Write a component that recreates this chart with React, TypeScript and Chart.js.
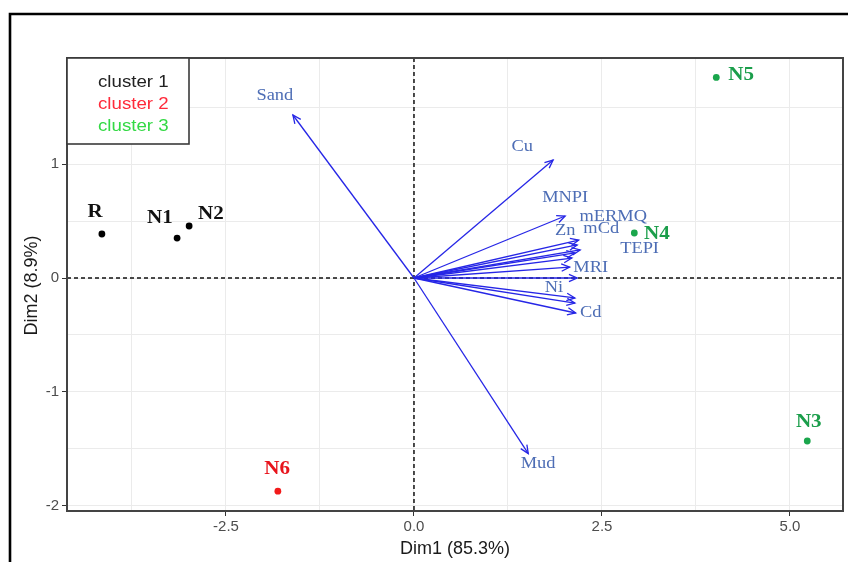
import React, { useEffect, useRef } from 'react';
import { Chart, registerables } from 'chart.js';

Chart.register(...registerables);

// ---- Data ----
const sampleNames = ['R', 'N1', 'N2', 'N3', 'N4', 'N5', 'N6'];
const sampleDim1 = [-4.15, -3.15, -2.99, 5.23, 2.93, 4.02, -1.81];
const sampleDim2 = [0.386, 0.35, 0.456, -1.43, 0.395, 1.76, -1.87];
const sampleCluster = [1, 1, 1, 3, 3, 3, 2];
const sampleLabelDim1 = [-4.24, -3.38, -2.7, 5.25, 3.23, 4.35, -1.82];
const sampleLabelDim2 = [0.58, 0.526, 0.56, -1.27, 0.386, 1.78, -1.675];

const varNames = ['Sand', 'Mud', 'Cu', 'MNPI', 'mERMQ', 'Zn', 'mCd', 'TEPI', '', 'MRI', '', 'Ni', '', 'Cd'];
const varDim1 = [-1.61, 1.52, 1.85, 2.01, 2.19, 2.17, 2.21, 2.14, 2.1, 2.07, 2.17, 2.14, 2.14, 2.15];
const varDim2 = [1.43, -1.54, 1.035, 0.544, 0.333, 0.29, 0.246, 0.22, 0.175, 0.096, 0.0, -0.175, -0.22, -0.307];
const varLabelDim1 = [-1.85, 1.65, 1.44, 2.01, 2.65, 2.01, 2.49, 3.0, 0, 2.35, 0, 1.86, 0, 2.35];
const varLabelDim2 = [1.6, -1.63, 1.15, 0.7, 0.535, 0.41, 0.43, 0.26, 0, 0.088, 0, -0.088, 0, -0.307];

const clusterNames = ['cluster 1', 'cluster 2', 'cluster 3'];

const xTickValues = [-3.75, -2.5, -1.25, 0, 1.25, 2.5, 3.75, 5];
const xTickLabels = ['', '-2.5', '', '0.0', '', '2.5', '', '5.0'];
const yTickValues = [-2, -1.5, -1, -0.5, 0, 0.5, 1, 1.5];
const yTickLabels = ['-2', '', '-1', '', '0', '', '1', ''];

const xTitle = 'Dim1 (85.3%)';
const yTitle = 'Dim2 (8.9%)';

// ---- Styles ----
const pointColors = ['#000000', '#f21a1a', '#1aa64c'];
const pointLabelColors = ['#111111', '#e8141c', '#1b9e4b'];
const legendColors = ['#222222', '#ff2a3a', '#33d944'];
const arrowColor = '#2626e6';
const varLabelColor = '#4d6db5';

function drawText(
  ctx: CanvasRenderingContext2D, s: string, x: number, y: number,
  font: string, color: string, sx: number, align: CanvasTextAlign = 'center',
  baseline: CanvasTextBaseline = 'middle', rot = 0
) {
  ctx.save();
  ctx.translate(x, y);
  if (rot) ctx.rotate(rot);
  ctx.scale(sx, 1);
  ctx.font = font;
  ctx.fillStyle = color;
  ctx.textAlign = align;
  ctx.textBaseline = baseline;
  ctx.fillText(s, 0, 0);
  ctx.restore();
}

const biplotPlugin = {
  id: 'biplotPlugin',
  beforeDatasetsDraw(chart: any) {
    const { ctx, chartArea: a, scales } = chart;
    const x0 = scales.x.getPixelForValue(0);
    const y0 = scales.y.getPixelForValue(0);
    ctx.save();
    ctx.strokeStyle = '#111111';
    ctx.lineWidth = 1.5;
    ctx.setLineDash([4, 3]);
    ctx.beginPath();
    ctx.moveTo(x0, a.top);
    ctx.lineTo(x0, a.bottom);
    ctx.moveTo(a.left, y0);
    ctx.lineTo(a.right, y0);
    ctx.stroke();
    ctx.restore();
  },
  afterDatasetsDraw(chart: any) {
    const { ctx, scales } = chart;
    const sx = scales.x;
    const sy = scales.y;
    const ox = sx.getPixelForValue(0);
    const oy = sy.getPixelForValue(0);
    // arrowheads
    ctx.save();
    ctx.strokeStyle = arrowColor;
    ctx.lineWidth = 1.3;
    for (let i = 0; i < varNames.length; i++) {
      const px = sx.getPixelForValue(varDim1[i]);
      const py = sy.getPixelForValue(varDim2[i]);
      const ang = Math.atan2(py - oy, px - ox);
      const L = 9;
      const th = 0.42;
      ctx.beginPath();
      ctx.moveTo(px - L * Math.cos(ang - th), py - L * Math.sin(ang - th));
      ctx.lineTo(px, py);
      ctx.lineTo(px - L * Math.cos(ang + th), py - L * Math.sin(ang + th));
      ctx.stroke();
    }
    ctx.restore();
    // variable labels
    for (let i = 0; i < varNames.length; i++) {
      if (!varNames[i]) continue;
      drawText(ctx, varNames[i], sx.getPixelForValue(varLabelDim1[i]), sy.getPixelForValue(varLabelDim2[i]),
        '16px "Liberation Serif"', varLabelColor, 1.15);
    }
    // sample labels
    for (let i = 0; i < sampleNames.length; i++) {
      drawText(ctx, sampleNames[i], sx.getPixelForValue(sampleLabelDim1[i]), sy.getPixelForValue(sampleLabelDim2[i]),
        'bold 18px "Liberation Serif"', pointLabelColors[sampleCluster[i] - 1], 1.17);
    }
  },
  afterDraw(chart: any) {
    const { ctx, chartArea: a } = chart;
    ctx.save();
    // panel border
    ctx.strokeStyle = '#444444';
    ctx.lineWidth = 2;
    ctx.strokeRect(a.left, a.top, a.right - a.left, a.bottom - a.top);
    // legend box
    ctx.fillStyle = '#ffffff';
    ctx.fillRect(a.left, a.top, 122, 86);
    ctx.strokeStyle = '#3a3a3a';
    ctx.lineWidth = 1.6;
    ctx.strokeRect(a.left, a.top, 122, 86);
    for (let i = 0; i < clusterNames.length; i++) {
      drawText(ctx, clusterNames[i], a.left + 31, a.top + 29 + i * 22, '17px "Liberation Sans"', legendColors[i], 1.1, 'left', 'alphabetic');
    }
    // axis titles
    drawText(ctx, xTitle, (a.left + a.right) / 2, 549, '18px "Liberation Sans"', '#1a1a1a', 1, 'center', 'middle');
    drawText(ctx, yTitle, 32, (a.top + a.bottom) / 2 + 1, '18px "Liberation Sans"', '#1a1a1a', 1, 'center', 'middle', -Math.PI / 2);
    // outer frame
    ctx.strokeStyle = '#000000';
    ctx.lineWidth = 2.6;
    ctx.beginPath();
    ctx.moveTo(10, 562);
    ctx.lineTo(10, 14);
    ctx.lineTo(848, 14);
    ctx.stroke();
    ctx.restore();
  },
};

export default function App() {
  const ref = useRef<HTMLCanvasElement | null>(null);

  useEffect(() => {
    if (!ref.current) return;
    const arrowSets = varNames.map((_, i) => ({
      type: 'scatter' as const,
      data: [{ x: 0, y: 0 }, { x: varDim1[i], y: varDim2[i] }],
      showLine: true,
      borderColor: arrowColor,
      borderWidth: 1.3,
      pointRadius: 0,
      fill: false,
    }));
    const pointSet = {
      type: 'scatter' as const,
      data: sampleNames.map((_, i) => ({ x: sampleDim1[i], y: sampleDim2[i] })),
      pointRadius: 3.4,
      pointBackgroundColor: sampleCluster.map((c) => pointColors[c - 1]),
      pointBorderColor: sampleCluster.map((c) => pointColors[c - 1]),
      pointBorderWidth: 0,
      showLine: false,
    };
    const tickFont = { family: '"Liberation Sans"', size: 15 };
    const chart = new Chart(ref.current, {
      type: 'scatter',
      data: { datasets: [...arrowSets, pointSet] as any },
      options: {
        responsive: false,
        animation: false,
        devicePixelRatio: 1,
        layout: { padding: { top: 58, right: 5, left: 0, bottom: 0 } },
        plugins: { legend: { display: false }, tooltip: { enabled: false } },
        scales: {
          x: {
            type: 'linear',
            min: -4.614,
            max: 5.705,
            afterFit: (s: any) => { s.height = 51; },
            afterBuildTicks: (s: any) => { s.ticks = xTickValues.map((v) => ({ value: v })); },
            ticks: {
              callback: (_v: any, i: number) => xTickLabels[i],
              font: tickFont,
              color: '#4d4d4d',
              padding: 2,
              maxRotation: 0,
              autoSkip: false,
            },
            grid: {
              color: '#ebebeb',
              lineWidth: 1,
              tickLength: 5,
              tickColor: (c: any) => (xTickLabels[c.index] ? '#333333' : 'rgba(0,0,0,0)'),
            },
            border: { display: false },
          },
          y: {
            type: 'linear',
            min: -2.044,
            max: 1.93,
            afterFit: (s: any) => { s.width = 67; },
            afterBuildTicks: (s: any) => { s.ticks = yTickValues.map((v) => ({ value: v })); },
            ticks: {
              callback: (_v: any, i: number) => yTickLabels[i],
              font: tickFont,
              color: '#4d4d4d',
              padding: 3,
              autoSkip: false,
            },
            grid: {
              color: '#ebebeb',
              lineWidth: 1,
              tickLength: 5,
              tickColor: (c: any) => (yTickLabels[c.index] ? '#333333' : 'rgba(0,0,0,0)'),
            },
            border: { display: false },
          },
        },
      } as any,
      plugins: [biplotPlugin],
    });
    return () => chart.destroy();
  }, []);

  return (
    <div style={{ position: 'absolute', left: 0, top: 0, width: 848, height: 562, background: '#ffffff' }}>
      <canvas ref={ref} width={848} height={562} style={{ display: 'block' }} />
    </div>
  );
}
